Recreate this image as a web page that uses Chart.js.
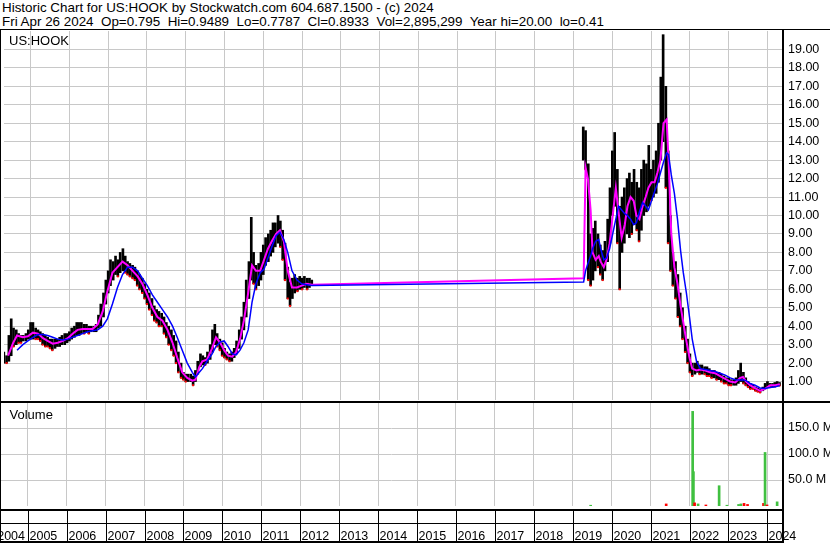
<!DOCTYPE html>
<html>
<head>
<meta charset="utf-8">
<script src="https://cdn.jsdelivr.net/npm/chart.js@4.4.1/dist/chart.umd.min.js"></script>
<style>
  body { margin: 0; background: #fff; }
  #wrap { position: relative; width: 830px; height: 543px; overflow: hidden; }
  canvas { position: absolute; left: 0; top: 0; }
  .hdr { position: absolute; left: 2px; font: 13.4px "Liberation Sans", Arial, sans-serif; line-height: 15px; white-space: pre; color: #000; }
</style>
</head>
<body>
<div id="wrap">
  <div class="hdr" style="top:0px">Historic Chart for US:HOOK by Stockwatch.com 604.687.1500 - (c) 2024</div>
  <div class="hdr" style="top:14px">Fri Apr 26 2024  Op=0.795  Hi=0.9489  Lo=0.7787  Cl=0.8933  Vol=2,895,299  Year hi=20.00  lo=0.41</div>
  <canvas id="priceChart" width="830" height="543"></canvas>
  <canvas id="volChart" width="830" height="543"></canvas>
</div>
<script>
// year labels along the bottom strip
const yearLabels = ["2004","2005","2006","2007","2008","2009","2010","2011","2012","2013","2014",
  "2015","2016","2017","2018","2019","2020","2021","2022","2023","2024"];

// early listing 2004-2012, high/low per sample
const datesA = [2004.31,2004.38,2004.44,2004.50,2004.56,2004.63,2004.69,2004.75,2004.81,2004.88,2004.94,
  2005.00,2005.06,2005.13,2005.19,2005.25,2005.31,2005.38,2005.44,2005.50,2005.56,2005.63,2005.69,2005.75,2005.81,2005.88,2005.94,
  2006.00,2006.06,2006.13,2006.19,2006.25,2006.31,2006.38,2006.44,2006.50,2006.56,2006.63,2006.69,2006.75,2006.81,2006.88,2006.94,
  2007.00,2007.06,2007.13,2007.19,2007.25,2007.31,2007.38,2007.44,2007.50,2007.56,2007.63,2007.69,2007.75,2007.81,2007.88,2007.94,
  2008.00,2008.06,2008.13,2008.19,2008.25,2008.31,2008.38,2008.44,2008.50,2008.56,2008.63,2008.69,2008.75,2008.81,2008.88,2008.94,
  2009.00,2009.06,2009.13,2009.19,2009.25,2009.31,2009.38,2009.44,2009.50,2009.56,2009.63,2009.69,2009.75,2009.81,2009.88,2009.94,
  2010.00,2010.06,2010.13,2010.19,2010.25,2010.31,2010.38,2010.44,2010.50,2010.56,2010.63,2010.69,2010.75,2010.81,2010.88,2010.94,
  2011.00,2011.06,2011.13,2011.19,2011.25,2011.31,2011.38,2011.44,2011.50,2011.56,2011.63,2011.69,2011.75,2011.81,2011.88,2011.94,
  2012.00,2012.06,2012.13,2012.19,2012.25];
const lowA = [2.0,2.0,2.1,2.4,2.9,3.0,3.1,3.1,3.2,3.2,3.3,
  3.3,3.3,3.3,3.3,3.2,3.0,2.9,2.9,2.8,2.7,2.8,2.9,2.9,3.0,3.0,3.1,
  3.2,3.3,3.4,3.5,3.5,3.6,3.6,3.7,3.6,3.7,3.7,3.7,3.9,4.0,4.5,5.2,
  5.8,6.2,6.5,6.8,6.7,6.9,7.0,6.9,6.8,6.7,6.6,6.5,6.2,6.0,5.8,5.5,
  5.2,4.9,4.6,4.3,4.2,4.0,4.0,3.6,3.4,3.0,2.7,2.4,2.0,1.5,1.2,1.1,
  1.0,1.0,1.0,0.8,1.0,1.4,1.8,1.9,1.9,2.0,2.2,2.6,3.0,2.9,2.7,2.4,
  2.3,2.2,2.1,2.1,2.3,2.5,2.8,3.3,3.8,4.5,5.5,6.5,6.3,6.0,6.2,6.5,
  6.8,7.3,7.5,7.8,8.0,8.3,8.5,8.3,7.6,6.5,5.5,5.1,5.5,5.8,5.9,6.0,
  6.0,6.1,6.0,6.1,6.2];
const highA = [2.6,2.4,3.5,4.4,3.9,3.8,3.6,3.5,3.5,3.6,3.8,
  4.2,4.2,3.9,3.8,3.7,3.6,3.5,3.4,3.3,3.3,3.3,3.3,3.4,3.5,3.6,3.6,
  3.7,3.9,4.0,4.2,4.2,4.2,4.1,4.1,4.0,4.0,4.0,4.1,4.6,5.2,5.8,6.5,
  7.0,7.6,7.5,7.8,7.6,8.0,8.2,7.8,7.5,7.4,7.3,7.2,7.0,6.8,6.6,6.3,
  6.0,5.8,5.5,5.1,4.9,4.8,4.7,4.5,4.2,4.0,3.8,3.5,3.2,2.6,2.0,1.5,
  1.4,1.4,1.4,1.3,1.6,2.1,2.5,2.4,2.3,2.6,3.0,3.8,4.1,3.6,3.3,3.1,
  2.8,2.6,2.5,2.6,2.8,3.2,3.8,4.5,5.3,6.5,7.5,9.9,8.0,7.3,7.4,8.0,
  8.4,8.8,9.0,9.2,9.6,9.6,10.0,9.7,9.2,8.5,7.2,6.4,6.6,6.8,6.6,6.7,
  6.6,6.7,6.6,6.6,6.5];

// current listing 2019-2024, high/low per sample
const datesB = [2019.25,2019.31,2019.38,2019.44,2019.50,2019.56,2019.63,2019.69,2019.75,2019.81,2019.88,2019.94,
  2020.00,2020.06,2020.13,2020.19,2020.25,2020.31,2020.38,2020.44,2020.50,2020.56,2020.63,2020.69,2020.75,2020.81,2020.88,2020.94,
  2021.00,2021.06,2021.13,2021.19,2021.25,2021.31,2021.38,2021.44,2021.50,2021.56,2021.63,2021.69,2021.75,2021.81,2021.88,2021.94,
  2022.00,2022.06,2022.13,2022.19,2022.25,2022.31,2022.38,2022.44,2022.50,2022.56,2022.63,2022.69,2022.75,2022.81,2022.88,2022.94,
  2023.00,2023.06,2023.13,2023.19,2023.25,2023.31,2023.38,2023.44,2023.50,2023.56,2023.63,2023.69,2023.75,2023.81,2023.88,2023.94,
  2024.00,2024.06,2024.13,2024.19,2024.25,2024.31];
const lowB = [13.0,12.5,6.5,6.2,6.5,7.0,7.2,6.8,6.5,7.0,7.5,8.5,
  10.0,10.5,8.5,6.0,8.0,8.5,9.0,8.8,9.0,9.5,9.2,8.6,9.2,10.0,10.2,10.5,
  10.8,11.0,11.2,11.8,13.0,14.0,11.5,8.5,7.0,6.2,5.5,4.5,4.0,3.3,2.6,2.0,
  1.5,1.3,1.4,1.5,1.4,1.4,1.4,1.3,1.3,1.2,1.2,1.1,1.1,1.0,0.9,0.9,
  0.8,0.8,0.8,0.8,0.9,1.0,0.9,0.8,0.7,0.6,0.6,0.5,0.45,0.41,0.5,0.6,
  0.7,0.7,0.7,0.7,0.75,0.78];
const highB = [14.8,14.6,12.8,9.0,9.3,9.7,9.0,8.4,8.1,8.6,9.8,11.5,
  13.5,14.5,12.5,10.5,11.0,11.5,12.0,12.3,11.8,12.5,11.8,11.5,12.5,13.0,12.8,13.8,
  12.5,13.0,13.5,15.0,17.5,19.8,17.0,13.5,10.0,8.0,7.5,6.8,5.8,5.0,4.0,3.3,
  2.5,2.0,2.0,2.1,1.9,1.9,1.8,1.8,1.7,1.6,1.6,1.5,1.5,1.4,1.3,1.2,
  1.2,1.1,1.1,1.2,1.6,2.0,1.5,1.2,1.0,0.9,0.8,0.7,0.65,0.6,0.7,0.9,
  1.0,0.9,0.9,0.95,1.0,0.95];

// moving averages (magenta = short, blue = long)
const maDates = [2004.42,2004.55,2004.65,2004.80,2004.93,2005.06,2005.19,2005.32,2005.44,2005.57,2005.70,2005.83,2005.96,
  2006.09,2006.21,2006.34,2006.47,2006.60,2006.73,2006.86,2006.98,2007.11,2007.24,2007.37,2007.50,2007.63,2007.76,2007.88,
  2008.01,2008.14,2008.27,2008.40,2008.53,2008.66,2008.78,2008.91,2009.04,2009.17,2009.25,2009.35,2009.43,2009.55,2009.68,
  2009.78,2009.89,2009.99,2010.09,2010.20,2010.30,2010.40,2010.50,2010.61,2010.71,2010.81,2010.92,2011.02,2011.12,2011.22,
  2011.33,2011.43,2011.53,2011.63,2011.74,2011.87,2011.99,2012.12,2012.25,
  2019.26,2019.31,2019.37,2019.44,2019.49,2019.57,2019.65,2019.70,2019.78,2019.85,2019.93,
  2020.01,2020.09,2020.16,2020.24,2020.32,2020.39,2020.47,2020.55,2020.62,2020.70,2020.78,2020.86,2020.93,
  2021.01,2021.09,2021.16,2021.24,2021.32,2021.40,2021.45,2021.52,2021.60,2021.68,2021.76,2021.83,2021.91,2021.99,
  2022.06,2022.17,2022.27,2022.40,2022.52,2022.65,2022.78,2022.91,
  2023.04,2023.17,2023.30,2023.37,2023.45,2023.55,2023.68,2023.81,2023.94,2024.07,2024.20,2024.32];
const maFast = [2.4,3.1,3.5,3.4,3.45,3.65,3.6,3.35,3.2,3.05,3.1,3.2,3.35,
  3.6,3.8,3.85,3.85,3.85,4.1,4.8,5.9,6.9,7.2,7.5,7.3,7.0,6.7,6.3,
  5.7,5.0,4.5,4.3,3.8,3.1,2.3,1.5,1.2,1.05,1.1,1.8,2.1,2.2,2.8,
  3.4,3.1,2.7,2.4,2.35,2.6,3.3,4.3,5.8,7.3,7.0,7.0,7.6,8.2,8.6,
  9.0,9.2,8.6,7.0,6.1,6.1,6.2,6.3,6.25,
  6.6,12.6,12.0,10.3,8.0,7.6,7.8,7.5,7.2,7.6,8.5,
  10.0,11.5,10.2,8.8,9.5,10.5,11.0,10.8,10.0,9.8,10.5,11.0,11.5,
  11.8,11.8,12.3,13.0,15.0,15.2,13.0,9.0,7.2,6.3,5.1,4.2,3.2,2.3,
  1.7,1.6,1.65,1.6,1.5,1.45,1.3,1.15,
  1.0,0.95,1.2,1.25,1.0,0.8,0.65,0.5,0.6,0.8,0.8,0.85];
const maSlow = [null,null,2.7,3.0,3.2,3.4,3.55,3.55,3.5,3.4,3.3,3.25,3.3,
  3.4,3.5,3.6,3.7,3.75,3.8,4.0,4.4,5.2,6.1,6.8,7.2,7.2,7.0,6.6,
  6.2,5.7,5.3,4.9,4.5,4.0,3.4,2.7,2.0,1.5,1.25,1.5,1.7,2.1,2.5,
  2.9,3.15,3.2,2.9,2.5,2.45,2.7,3.1,3.8,5.3,6.3,6.9,7.1,7.7,8.3,
  8.9,9.1,8.7,8.0,7.0,6.5,6.3,6.25,6.2,
  6.4,7.0,7.4,7.8,8.2,8.6,8.7,8.2,7.6,7.7,8.2,
  9.0,9.8,10.5,10.3,10.1,10.0,9.8,9.5,9.6,10.2,10.7,10.5,10.3,
  10.8,11.3,11.7,12.3,12.9,13.4,13.3,12.2,11.2,9.8,8.1,6.9,5.8,4.5,
  3.3,2.1,1.7,1.65,1.6,1.55,1.45,1.35,
  1.2,1.1,1.08,1.1,1.05,0.9,0.8,0.65,0.62,0.68,0.72,0.78];

// volume in millions, up = green, down = red
const volDates = [2019.46,2021.40,2022.08,2022.10,2022.13,2022.22,2022.42,2022.76,2022.96,
  2023.26,2023.32,2023.40,2023.49,2023.90,2023.94,2023.99,2024.25];
const volValues = [1.5,4,182,66,6,4,2,39,1.5,3,4,5,3,5,103,2,8];
const volUp = [1,0,1,1,0,1,0,1,1,1,1,0,0,0,1,0,1];

const FONT = '"Liberation Sans", Arial, sans-serif';
const GRID = "#c8c8c8";
const X_MIN = 2004.314, X_MAX = 2024.375;

const bars = [];
const downMarks = [];
[[datesA, lowA, highA], [datesB, lowB, highB]].forEach(([d, lo, hi]) => {
  d.forEach((date, i) => {
    bars.push({ x: date, y: [lo[i], hi[i]] });
    if (i > 0 && lo[i] + hi[i] < lo[i - 1] + hi[i - 1]) downMarks.push({ x: date, y: lo[i] });
  });
});

function xAxis(height) {
  return {
    type: "linear", min: X_MIN, max: X_MAX, offset: false,
    ticks: { display: false, stepSize: 1, includeBounds: false },
    grid: { color: GRID, drawTicks: false, offset: false },
    border: { display: false },
    afterFit: s => { s.height = height; }
  };
}

const priceFrame = {
  id: "priceFrame",
  afterDraw(chart) {
    const ctx = chart.ctx;
    ctx.save();
    ctx.fillStyle = "#000";
    ctx.fillRect(0, 29, 830, 1);
    ctx.fillRect(0, 29, 1, 372);
    ctx.fillRect(782, 29, 2, 372);
    ctx.font = "13px " + FONT;
    ctx.fillText("US:HOOK", 9, 45);
    ctx.restore();
  }
};

const volFrame = {
  id: "volFrame",
  afterDraw(chart) {
    const ctx = chart.ctx;
    const x = chart.scales.x;
    ctx.save();
    ctx.fillStyle = "#000";
    ctx.fillRect(0, 401, 830, 2);
    ctx.fillRect(0, 401, 1, 142);
    ctx.fillRect(0, 509, 784, 2);
    ctx.fillRect(0, 523, 784, 1);
    ctx.fillRect(0, 541, 784, 2);
    ctx.font = "12.5px " + FONT;
    ctx.textBaseline = "alphabetic";
    yearLabels.forEach(lbl => {
      const yr = Number(lbl);
      const px = Math.round(x.getPixelForValue(yr));
      if (px >= 1) {
        ctx.fillRect(px, 509, 1, 34);
        ctx.textAlign = "left";
        ctx.fillText(lbl, px + 1.5, 539.5);
      } else {
        ctx.textAlign = "right";
        ctx.fillText(lbl, Math.round(x.getPixelForValue(yr + 1)) - 3, 539.5);
      }
    });
    ctx.fillRect(782, 401, 2, 142);
    ctx.textAlign = "left";
    ctx.font = "13px " + FONT;
    ctx.fillText("Volume", 9.5, 418.5);
    ctx.restore();
  }
};

new Chart(document.getElementById("priceChart"), {
  type: "bar",
  data: {
    datasets: [
      { type: "line", data: maDates.map((d, i) => ({ x: d, y: maSlow[i] })), borderColor: "#0000ff",
        borderWidth: 1.5, pointRadius: 0, tension: 0, order: 0 },
      { type: "line", data: maDates.map((d, i) => ({ x: d, y: maFast[i] })), borderColor: "#ff00ff",
        borderWidth: 2, pointRadius: 0, tension: 0, order: 1 },
      { type: "scatter", data: downMarks, pointStyle: "rect", pointRadius: 1.4, borderWidth: 0,
        backgroundColor: "#ff0000", order: 2 },
      { type: "bar", data: bars, backgroundColor: "#000", barThickness: 2, order: 3 }
    ]
  },
  options: {
    responsive: false, animation: false, events: [],
    layout: { padding: { top: 31, bottom: 143, left: 1, right: 0 } },
    plugins: { legend: { display: false }, tooltip: { enabled: false } },
    scales: {
      x: xAxis(0),
      y: {
        position: "right", min: 0, max: 20,
        ticks: { stepSize: 1, padding: 6, color: "#000", font: { family: FONT, size: 12.5 },
          callback: v => (v > 0 && v < 20) ? v.toFixed(2) : null },
        grid: { color: GRID, drawTicks: false },
        border: { display: false },
        afterFit: s => { s.width = 48; }
      }
    }
  },
  plugins: [priceFrame]
});

new Chart(document.getElementById("volChart"), {
  type: "bar",
  data: {
    datasets: [{
      data: volDates.map((d, i) => ({ x: d, y: volValues[i] })),
      backgroundColor: volUp.map(u => u ? "#40c040" : "#ff0000"),
      barThickness: 2
    }]
  },
  options: {
    responsive: false, animation: false, events: [],
    layout: { padding: { top: 402, bottom: 0, left: 1, right: 0 } },
    plugins: { legend: { display: false }, tooltip: { enabled: false } },
    scales: {
      x: xAxis(37),
      y: {
        position: "right", min: 0, max: 200,
        ticks: { stepSize: 50, padding: 6, color: "#000", font: { family: FONT, size: 12.5 },
          callback: v => (v > 0 && v < 200) ? v.toFixed(1) + " M" : null },
        grid: { color: GRID, drawTicks: false },
        border: { display: false },
        afterFit: s => { s.width = 48; }
      }
    }
  },
  plugins: [volFrame]
});
</script>
</body>
</html>
